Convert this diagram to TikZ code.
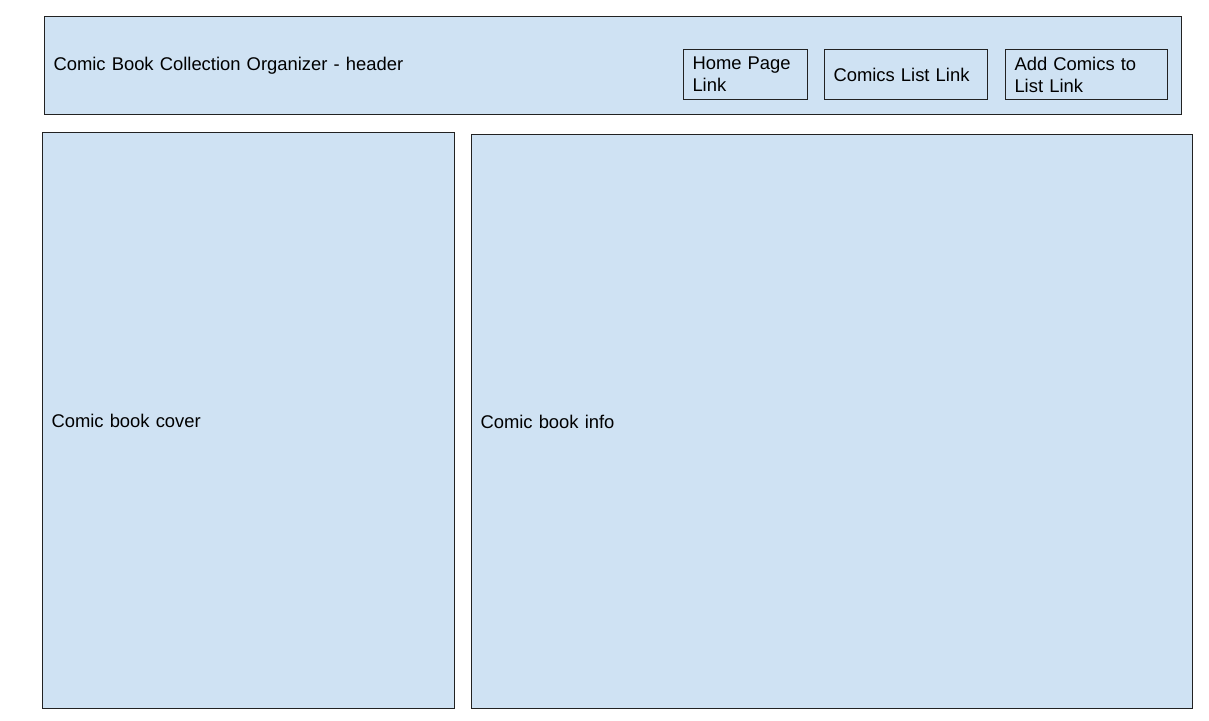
\documentclass[tikz,border=0pt]{standalone}
\usepackage{fontspec}
\setmainfont{Liberation Sans}
\definecolor{boxfill}{HTML}{CFE2F3}
\definecolor{boxline}{HTML}{222222}
\begin{document}
\begin{tikzpicture}[x=1pt,y=-1pt,
  panel/.style={draw=boxline,fill=boxfill,line width=1pt,rectangle,inner xsep=9pt,inner ysep=0pt,
    align=left,font=\fontsize{18.4}{22}\selectfont,anchor=north west},
]
\useasboundingbox[fill=white] (0,0) rectangle (1209,720);
\node[panel,minimum height=98pt,text width=1119pt] (header) at (44,16) {Comic Book Collection Organizer - header};
\node[panel,minimum height=50pt,text width=106pt] (home) at (683,49) {Home Page\\Link};
\node[panel,minimum height=50pt,text width=145pt] (list) at (824,49) {Comics List Link};
\node[panel,minimum height=50pt,text width=144pt] (add) at (1005,49) {Add Comics to\\List Link};
\node[panel,minimum height=576pt,text width=394pt] (cover) at (42,132) {Comic book cover};
\node[panel,minimum height=574pt,text width=703pt] (info) at (471,134) {Comic book info};
\end{tikzpicture}
\end{document}
